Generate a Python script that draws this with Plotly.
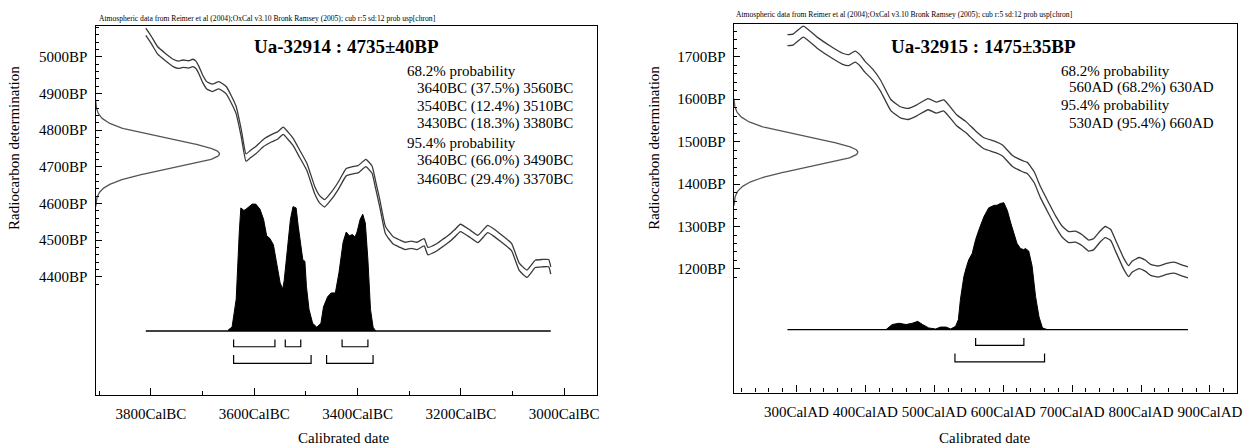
import numpy as np
import plotly.graph_objects as go

W, H = 1255, 445
FONT = "Liberation Serif"
HEADER = "Atmospheric data from Reimer et al (2004);OxCal v3.10 Bronk Ramsey (2005); cub r:5 sd:12 prob usp[chron]"

# ---------------- Left panel: Ua-32914 ----------------
L_title = "Ua-32914 : 4735±40BP"
L_bp, L_err = 4735, 40
L_cal_year = [-3810, -3799, -3787, -3772, -3757, -3746, -3738, -3727, -3719, -3713, -3707, -3700,
              -3692, -3681, -3669, -3662, -3654, -3645, -3635, -3625, -3616, -3607, -3597, -3582,
              -3566, -3555, -3544, -3535, -3525, -3512, -3498, -3483, -3474, -3464, -3450, -3437,
              -3422, -3410, -3399, -3384, -3372, -3365, -3357, -3346, -3331, -3318, -3308, -3296,
              -3285, -3271, -3264, -3247, -3235, -3224, -3212, -3201, -3182, -3167, -3148, -3136,
              -3125, -3102, -3087, -3072, -3056, -3042, -3030, -3026]
L_cal_bp = [5068, 5045, 5017, 4999, 4983, 4978, 4981, 4979, 4983, 4978, 4963, 4940,
            4922, 4915, 4922, 4917, 4908, 4885, 4854, 4790, 4725, 4735, 4745, 4765,
            4778, 4785, 4798, 4785, 4768, 4735, 4699, 4636, 4612, 4600, 4622, 4649,
            4685, 4690, 4693, 4710, 4692, 4650, 4600, 4527, 4499, 4490, 4484, 4487,
            4484, 4494, 4470, 4480, 4492, 4503, 4518, 4533, 4517, 4503, 4530, 4520,
            4508, 4481, 4427, 4408, 4435, 4437, 4437, 4417]
L_cal_sd = 10
L_dist_year = [-3650, -3643, -3635, -3629, -3626, -3620, -3616, -3604, -3597, -3589, -3582, -3576,
               -3570, -3563, -3555, -3550, -3545, -3542, -3536, -3530, -3525, -3519, -3515, -3509,
               -3506, -3502, -3499, -3494, -3487, -3479, -3471, -3466, -3458, -3451, -3443, -3436,
               -3428, -3422, -3416, -3410, -3405, -3401, -3395, -3390, -3385, -3380, -3375, -3370,
               -3365]
L_dist_prob = [0.01, 0.03, 0.25, 0.78, 0.97, 0.95, 0.96, 1.00, 1.00, 0.96, 0.88, 0.75,
               0.73, 0.68, 0.51, 0.38, 0.33, 0.40, 0.64, 0.88, 0.98, 0.97, 0.83, 0.64,
               0.56, 0.55, 0.35, 0.17, 0.06, 0.03, 0.06, 0.19, 0.27, 0.30, 0.30, 0.46,
               0.70, 0.78, 0.75, 0.76, 0.74, 0.78, 0.88, 0.92, 0.85, 0.56, 0.17, 0.03,
               0.0]
L_ranges68 = [(-3640, -3560), (-3540, -3510), (-3430, -3380)]
L_ranges95 = [(-3640, -3490), (-3460, -3370)]
L_text = ["68.2% probability",
          "3640BC (37.5%) 3560BC",
          "3540BC (12.4%) 3510BC",
          "3430BC (18.3%) 3380BC",
          "95.4% probability",
          "3640BC (66.0%) 3490BC",
          "3460BC (29.4%) 3370BC"]
L_xtick_vals = [-3800, -3600, -3400, -3200, -3000]
L_xtick_text = ["3800CalBC", "3600CalBC", "3400CalBC", "3200CalBC", "3000CalBC"]
L_xminor = [-3900, -3700, -3500, -3300, -3100]
L_ytick_vals = [4400, 4500, 4600, 4700, 4800, 4900, 5000]
L_ytick_text = ["4400BP", "4500BP", "4600BP", "4700BP", "4800BP", "4900BP", "5000BP"]

# ---------------- Right panel: Ua-32915 ----------------
R_title = "Ua-32915 : 1475±35BP"
R_bp, R_err = 1475, 35
R_cal_year = [287, 295, 310, 330, 353, 367, 376, 385, 393, 399, 411, 422, 437, 451, 462, 474, 491,
              503, 514, 532, 546, 560, 572, 589, 599, 613, 628, 635, 645, 654, 666, 676, 686, 695,
              705, 715, 724, 731, 741, 748, 756, 763, 775, 782, 787, 797, 806, 814, 825, 837, 848,
              860, 868]
R_cal_bp = [1739, 1740, 1759, 1733, 1708, 1695, 1692, 1700, 1690, 1677, 1657, 1632, 1586, 1569,
            1565, 1573, 1588, 1580, 1585, 1551, 1534, 1512, 1496, 1487, 1479, 1455, 1442, 1438,
            1416, 1381, 1343, 1312, 1287, 1275, 1276, 1267, 1255, 1258, 1277, 1287, 1280, 1255,
            1212, 1195, 1205, 1214, 1208, 1198, 1194, 1200, 1203, 1196, 1192]
R_cal_sd = 13
R_dist_year = [430, 439, 449, 459, 468, 476, 483, 492, 502, 509, 517, 524, 531, 535, 538, 543,
               547, 550, 555, 560, 565, 572, 579, 587, 591, 596, 601, 606, 611, 616, 620, 625,
               630, 632, 637, 642, 647, 652, 657, 664]
R_dist_prob = [0.0, 0.04, 0.05, 0.04, 0.05, 0.065, 0.04, 0.013, 0.005, 0.02, 0.02, 0.005, 0.026,
               0.08, 0.24, 0.42, 0.50, 0.55, 0.60, 0.71, 0.79, 0.89, 0.96, 0.98, 0.98, 0.995,
               1.0, 0.94, 0.84, 0.75, 0.68, 0.64, 0.63, 0.64, 0.62, 0.50, 0.26, 0.10, 0.013, 0.0]
R_ranges68 = [(560, 630)]
R_ranges95 = [(530, 660)]
R_text = ["68.2% probability",
          "560AD (68.2%) 630AD",
          "95.4% probability",
          "530AD (95.4%) 660AD"]
R_xtick_vals = [300, 400, 500, 600, 700, 800, 900]
R_xtick_text = ["300CalAD", "400CalAD", "500CalAD", "600CalAD", "700CalAD", "800CalAD", "900CalAD"]
R_xminor = list(range(220, 940, 20))
R_ytick_vals = [1200, 1300, 1400, 1500, 1600, 1700]
R_ytick_text = ["1200BP", "1300BP", "1400BP", "1500BP", "1600BP", "1700BP"]


def px(x):
    return x / W


def py(y):
    return 1 - y / H


# layout geometry (pixels) for each panel
panels = [
    dict(title=L_title, bp=L_bp, err=L_err, cy=L_cal_year, cb=L_cal_bp, sd=L_cal_sd,
         dy=L_dist_year, dp=L_dist_prob, r68=L_ranges68, r95=L_ranges95, text=L_text,
         xtv=L_xtick_vals, xtt=L_xtick_text, xmin=L_xminor, ytv=L_ytick_vals, ytt=L_ytick_text,
         ymin=list(range(4380, 5090, 20)),
         box=(96, 599.5, 26, 395), xr=(-3907.3, -2937.2), yr=(4077.4, 5083.7),
         base=4252, dh=346, gamp=240, b68=(4229, 4209), b95=(4186.5, 4163.8),
         hx=97, hy=18, tx=348, txt_x=(407.3, 417), txt_y=[71, 88.3, 106, 124, 142.7, 160.7, 179],
         ylab_x=14, xlab_x=346),
    dict(title=R_title, bp=R_bp, err=R_err, cy=R_cal_year, cb=R_cal_bp, sd=R_cal_sd,
         dy=R_dist_year, dp=R_dist_prob, r68=R_ranges68, r95=R_ranges95, text=R_text,
         xtv=R_xtick_vals, xtt=R_xtick_text, xmin=R_xminor, ytv=R_ytick_vals, ytt=R_ytick_text,
         ymin=list(range(1180, 1780, 20)),
         box=(737.3, 1242.5, 24, 392.5), xr=(209.1, 938.6), yr=(909.1, 1776.9),
         base=1057.2, dh=298.7, gamp=180, b68=(1037.7, 1020.3), b95=(1000.8, 981.3),
         hx=738, hy=15, tx=988, txt_x=(1063.8, 1072.6), txt_y=[70.7, 87.3, 105, 123.3],
         ylab_x=657, xlab_x=990),
]

fig = go.Figure()
annotations = []
CURVE = "#3a3a3a"

for i, p in enumerate(panels):
    sfx = "" if i == 0 else "2"
    xa, ya = "x" + sfx, "y" + sfx
    cb = np.array(p["cb"], dtype=float)
    # calibration curve envelope (two lines)
    for sgn in (1, -1):
        fig.add_trace(go.Scatter(x=p["cy"], y=cb + sgn * p["sd"], mode="lines",
                                 line=dict(color=CURVE, width=1.3, shape="spline", smoothing=0.4),
                                 xaxis=xa, yaxis=ya, hoverinfo="skip"))
    # radiocarbon measurement (normal distribution on the y axis)
    gy = np.linspace(p["bp"] - 3.6 * p["err"], p["bp"] + 3.6 * p["err"], 181)
    g = np.exp(-0.5 * ((gy - p["bp"]) / p["err"]) ** 2)
    fig.add_trace(go.Scatter(x=p["xr"][0] + p["gamp"] * g, y=gy, mode="lines",
                             line=dict(color="#555555", width=1.3),
                             xaxis=xa, yaxis=ya, hoverinfo="skip"))
    # calibrated distribution
    dx = [p["dy"][0]] + list(p["dy"]) + [p["dy"][-1]]
    dyv = [p["base"]] + [p["base"] + p["dh"] * v for v in p["dp"]] + [p["base"]]
    fig.add_trace(go.Scatter(x=dx, y=dyv, mode="lines", fill="toself", fillcolor="black",
                             line=dict(color="black", width=1),
                             xaxis=xa, yaxis=ya, hoverinfo="skip"))
    # baseline
    fig.add_trace(go.Scatter(x=[p["cy"][0], p["cy"][-1]], y=[p["base"], p["base"]], mode="lines",
                             line=dict(color="black", width=1.3), xaxis=xa, yaxis=ya,
                             hoverinfo="skip"))
    # range brackets
    for rng, (top, bot) in ((p["r68"], p["b68"]), (p["r95"], p["b95"])):
        for a, b in rng:
            fig.add_trace(go.Scatter(x=[a, a, b, b], y=[top, bot, bot, top], mode="lines",
                                     line=dict(color="black", width=1.2), xaxis=xa, yaxis=ya,
                                     hoverinfo="skip"))

    x0, x1, y0, y1 = p["box"]
    axis_common = dict(showgrid=False, zeroline=False, showline=True, linecolor="black",
                       linewidth=1.4, mirror=True, ticks="inside", tickcolor="black",
                       tickfont=dict(family=FONT, size=15, color="black"))
    fig.update_layout(**{
        "xaxis" + sfx: dict(domain=[px(x0), px(x1)], range=list(p["xr"]), anchor=ya,
                            tickmode="array", tickvals=p["xtv"], ticktext=p["xtt"],
                            ticklen=7, tickwidth=1, ticklabelstandoff=5, tickangle=0,
                            minor=dict(tickmode="array", tickvals=p["xmin"], ticks="inside",
                                       ticklen=4, tickcolor="black", tickwidth=1),
                            **axis_common),
        "yaxis" + sfx: dict(domain=[py(y1), py(y0)], range=list(p["yr"]), anchor=xa,
                            tickmode="array", tickvals=p["ytv"], ticktext=p["ytt"],
                            ticklen=6, tickwidth=1, ticklabelstandoff=4,
                            minor=dict(tickmode="array", tickvals=p["ymin"], ticks="inside",
                                       ticklen=3, tickcolor="black", tickwidth=1),
                            **axis_common),
    })

    annotations.append(dict(x=px(p["hx"]), y=py(p["hy"]), xref="paper", yref="paper",
                            text=HEADER, showarrow=False, xanchor="left", yanchor="middle",
                            font=dict(family=FONT, size=7.6, color="black")))
    annotations.append(dict(x=px(p["tx"]), y=py(47), xref="paper", yref="paper",
                            text="<b>" + p["title"] + "</b>", showarrow=False,
                            xanchor="center", yanchor="middle",
                            font=dict(family=FONT, size=19, color="black")))
    for line, yy in zip(p["text"], p["txt_y"]):
        xx = p["txt_x"][0] if "probability" in line else p["txt_x"][1]
        annotations.append(dict(x=px(xx), y=py(yy), xref="paper", yref="paper", text=line,
                                showarrow=False, xanchor="left", yanchor="middle",
                                font=dict(family=FONT, size=15, color="black")))
    annotations.append(dict(x=px(p["ylab_x"]), y=py(148), xref="paper", yref="paper",
                            text="Radiocarbon determination", textangle=-90, showarrow=False,
                            xanchor="center", yanchor="middle",
                            font=dict(family=FONT, size=15, color="black")))
    annotations.append(dict(x=px(p["xlab_x"]), y=py(438), xref="paper", yref="paper",
                            text="Calibrated date", showarrow=False,
                            xanchor="center", yanchor="middle",
                            font=dict(family=FONT, size=15, color="black")))

fig.update_layout(width=W, height=H, margin=dict(l=0, r=0, t=0, b=0),
                  paper_bgcolor="white", plot_bgcolor="white", showlegend=False,
                  annotations=annotations)

fig.write_html("out.html", config={"displayModeBar": False},
               post_script="document.body.style.margin='0px';")
